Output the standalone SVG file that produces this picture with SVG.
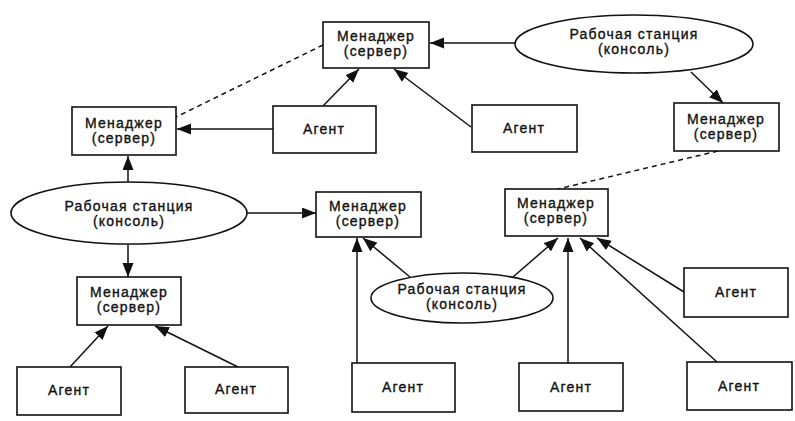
<svg xmlns="http://www.w3.org/2000/svg" width="795" height="421" viewBox="0 0 795 421">
<defs>
<marker id="ah" markerUnits="userSpaceOnUse" markerWidth="15" markerHeight="12" refX="14" refY="5.5" orient="auto">
<path d="M0,0 L14,5.5 L0,11 Z" fill="#111"/>
</marker>
<style>
.box{fill:#fff;stroke:#111;stroke-width:1.6}
.ell{fill:#fff;stroke:#111;stroke-width:1.6}
.ln{stroke:#111;stroke-width:1.5;fill:none}
.arr{marker-end:url(#ah)}
.dash{stroke-dasharray:5,4}
text{font-family:"Liberation Sans",Arial,sans-serif;font-size:14px;letter-spacing:1.2px;fill:#111;stroke:#111;stroke-width:0.35;text-anchor:middle}
</style>
</defs>
<rect width="795" height="421" fill="#fff"/>
<g id="connectors">
<line class="ln arr" x1="515" y1="43" x2="430" y2="43"/>
<line class="ln arr" x1="691" y1="72" x2="723" y2="103"/>
<line class="ln dash" x1="323" y1="45" x2="176" y2="117"/>
<line class="ln arr" x1="273" y1="129" x2="177" y2="129"/>
<line class="ln arr" x1="323" y1="106" x2="359" y2="69"/>
<line class="ln arr" x1="471" y1="127" x2="394" y2="69"/>
<line class="ln arr" x1="128" y1="182" x2="128" y2="156"/>
<line class="ln arr" x1="128" y1="245" x2="128" y2="277"/>
<line class="ln arr" x1="247" y1="213" x2="316" y2="213"/>
<line class="ln dash" x1="718" y1="151" x2="558" y2="189"/>
<line class="ln arr" x1="70" y1="367" x2="108" y2="326"/>
<line class="ln arr" x1="238" y1="367" x2="155" y2="326"/>
<line class="ln arr" x1="357" y1="363" x2="357" y2="238"/>
<line class="ln arr" x1="410" y1="277" x2="363" y2="238"/>
<line class="ln arr" x1="513" y1="277" x2="558" y2="238"/>
<line class="ln arr" x1="568" y1="363" x2="568" y2="238"/>
<line class="ln arr" x1="717" y1="362" x2="580" y2="238"/>
<line class="ln arr" x1="684" y1="292" x2="597" y2="238"/>
</g>
<g id="m1"><rect class="box" x="323" y="22" width="106" height="46"/><text x="376" y="41">Менаджер</text><text x="376" y="56">(сервер)</text></g>
<g id="ws1"><ellipse class="ell" cx="634" cy="44" rx="119" ry="29"/><text x="634" y="39">Рабочая станция</text><text x="634" y="54">(консоль)</text></g>
<g id="m2"><rect class="box" x="72" y="107" width="104" height="48"/><text x="124" y="128">Менаджер</text><text x="124" y="143">(сервер)</text></g>
<g id="a1"><rect class="box" x="273" y="106" width="103" height="47"/><text x="324" y="134">Агент</text></g>
<g id="a2"><rect class="box" x="472" y="105" width="105" height="47"/><text x="524" y="133">Агент</text></g>
<g id="m3"><rect class="box" x="674" y="103" width="105" height="48"/><text x="726" y="124">Менаджер</text><text x="726" y="139">(сервер)</text></g>
<g id="ws2"><ellipse class="ell" cx="129" cy="213" rx="118" ry="31"/><text x="129" y="211">Рабочая станция</text><text x="129" y="226">(консоль)</text></g>
<g id="m4"><rect class="box" x="316" y="192" width="105" height="45"/><text x="368" y="211">Менаджер</text><text x="368" y="226">(сервер)</text></g>
<g id="m5"><rect class="box" x="505" y="189" width="103" height="47"/><text x="556" y="208">Менаджер</text><text x="556" y="223">(сервер)</text></g>
<g id="m6"><rect class="box" x="77" y="277" width="104" height="48"/><text x="129" y="297">Менаджер</text><text x="129" y="312">(сервер)</text></g>
<g id="ws3"><ellipse class="ell" cx="462" cy="298" rx="91" ry="25"/><text x="462" y="294">Рабочая станция</text><text x="462" y="309">(консоль)</text></g>
<g id="a3"><rect class="box" x="17" y="367" width="104" height="48"/><text x="69" y="395">Агент</text></g>
<g id="a4"><rect class="box" x="185" y="367" width="103" height="46"/><text x="236" y="394">Агент</text></g>
<g id="a5"><rect class="box" x="352" y="363" width="103" height="49"/><text x="403" y="392">Агент</text></g>
<g id="a6"><rect class="box" x="519" y="363" width="104" height="48"/><text x="571" y="392">Агент</text></g>
<g id="a7"><rect class="box" x="684" y="268" width="104" height="49"/><text x="736" y="297">Агент</text></g>
<g id="a8"><rect class="box" x="687" y="362" width="105" height="48"/><text x="739" y="391">Агент</text></g>
</svg>
